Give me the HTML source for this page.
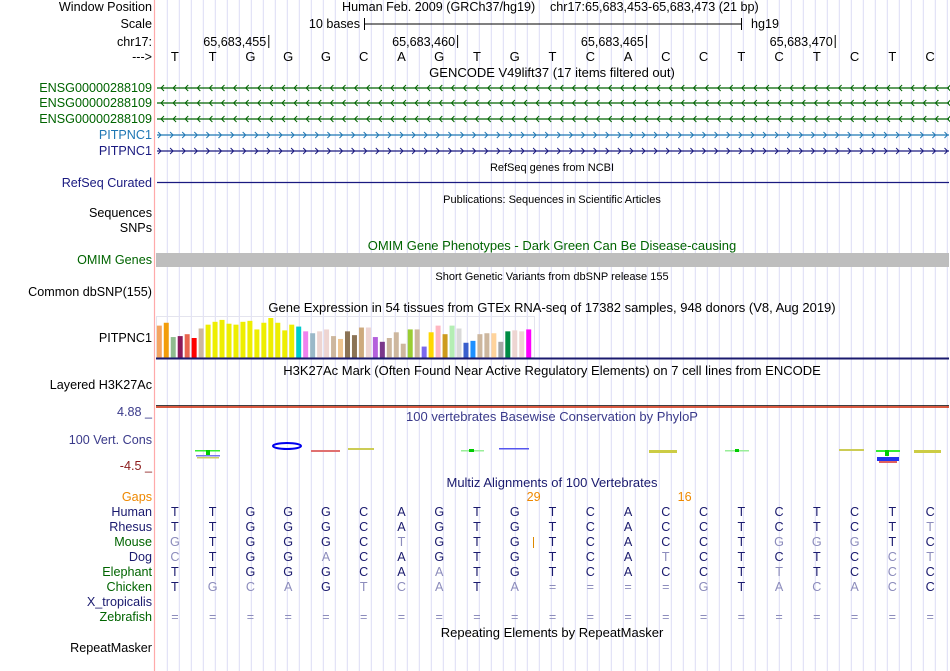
<!DOCTYPE html>
<html><head><meta charset="utf-8">
<style>
html,body{margin:0;padding:0;background:#fff;}
svg{display:block;font-family:"Liberation Sans",sans-serif;}
</style></head>
<body>
<svg id="g" width="950" height="671" viewBox="0 0 950 671" xmlns="http://www.w3.org/2000/svg"></svg>
<script>
const bases = ["T","T","G","G","G","C","A","G","T","G","T","C","A","C","C","T","C","T","C","T","C"];
const species = ["Human","Rhesus","Mouse","Dog","Elephant","Chicken","X_tropicalis","Zebrafish"];
const speciesColors = ["#1a1a6e","#1a1a6e","#006400","#1a1a6e","#006400","#006400","#1a1a6e","#006400"];
const alignRows = [
 "TTGGGCAGTGTCACCTCTCTC",
 "TTGGGCAGTGTCACCTCTCTT",
 "GTGGGCTGTGTCACCTGGGTC",
 "CTGGACAGTGTCATCTCTCCT",
 "TTGGGCAATGTCACCTTTCCC",
 "TGCAGTCATA====GTACACC",
 "                     ",
 "====================="];
const gapLabels = ["29","16"];
const gtexValues = [34,37,22,23,25,21,31,35,38,40,36,35,38,39,30,37,42,37,29,35,33,28,26,28,30,23,20,28,24,32,32,22,17,21,27,15,30,30,12,27,34,25,34,31,16,18,25,26,26,17,28,29,28,30];
const gtexColors = ["#f4a460","#f29d0a","#8fbc8f","#8b1a5a","#e9664e","#ff0000","#cdb79e","#eeee00","#eeee00","#eeee00","#eeee00","#eeee00","#eeee00","#eeee00","#eeee00","#eeee00","#eeee00","#eeee00","#eeee00","#eeee00","#00cdcd","#ee82ee","#9ab8c8","#eed5d2","#eed5d2","#cdb79e","#eec591","#8b7355","#8b7355","#cdaa7d","#eed5d2","#b460dc","#7a378b","#cdb79e","#cdb79e","#cdb79e","#9acd32","#cdb79e","#7b68ee","#ffd700","#ffb6c1","#cd9b1d","#b4eeb4","#d9d9d9","#3a5fcd","#1e90ff","#cdb79e","#cdb79e","#ffd39b","#a6a6a6","#008b45","#eed5d2","#eed5d2","#ff00ff"];
const rulerTicks = ["65,683,455","65,683,460","65,683,465","65,683,470"];
const rulerTickBase = [2,7,12,17];

const NS="http://www.w3.org/2000/svg";
const svg=document.getElementById('g');
function el(tag,attrs,parent){const e=document.createElementNS(NS,tag);for(const k in attrs)e.setAttribute(k,attrs[k]);(parent||svg).appendChild(e);return e;}
function txt(x,y,s,attrs){const e=el('text',Object.assign({x:x,y:y,'font-size':12.6,fill:'#000'},attrs||{}));e.textContent=s;return e;}
const X0=156, BW=(949-156)/21;
const bx=i=>X0+BW*(i+0.5);

for(let x=167.3;x<950;x+=12){const l=el('line',{x1:x,y1:0,x2:x,y2:671,stroke:'#dcdcf5','stroke-width':1});

}
const sep=el('line',{x1:154.5,y1:0,x2:154.5,y2:671,stroke:'#ffaaaa','stroke-width':1.2});



const labels=[["Window Position",11,"#000"],["Scale",28,"#000"],["chr17:",46,"#000"],["--->",61,"#000"],
["ENSG00000288109",92,"#006400"],["ENSG00000288109",107,"#006400"],["ENSG00000288109",123,"#006400"],
["PITPNC1",139,"#1f77b4"],["PITPNC1",155,"#1a1a80"],["RefSeq Curated",187,"#1a1a80"],["Sequences",217,"#000"],["SNPs",232,"#000"],
["OMIM Genes",264,"#006400"],["Common dbSNP(155)",296,"#000"],["PITPNC1",342,"#000"],["Layered H3K27Ac",389,"#000"],
["100 Vert. Cons",444,"#3a3a8a"],["Gaps",501,"#ee8800"],["RepeatMasker",652,"#000"]];
labels.forEach(l=>{const t=txt(152,l[1],l[0],{'text-anchor':'end',fill:l[2]});

});
const a=txt(152,416,"4.88 _",{'text-anchor':'end',fill:'#3a3a8a'});
const b=txt(152,470,"-4.5 _",{'text-anchor':'end',fill:'#8b1a1a'});
species.forEach((s,i)=>{const t=txt(152,516+i*15,s,{'text-anchor':'end',fill:speciesColors[i]});

});

const tA=txt(342,11,"Human Feb. 2009 (GRCh37/hg19)");
const tB=txt(550,11,"chr17:65,683,453-65,683,473 (21 bp)");
const tC=txt(360,28,"10 bases",{'text-anchor':'end'});
el('line',{x1:364,y1:24,x2:741,y2:24,stroke:'#000'});el('line',{x1:364.5,y1:18,x2:364.5,y2:30,stroke:'#000'});el('line',{x1:741.5,y1:18,x2:741.5,y2:30,stroke:'#000'});
const tD=txt(751,28,"hg19");
rulerTicks.forEach((s,i)=>{const x=X0+BW*(rulerTickBase[i]+1);
const l=el('line',{x1:x-0.5,y1:35,x2:x-0.5,y2:48,stroke:'#000'});
const t=txt(x-3,46,s,{'text-anchor':'end'});});
bases.forEach((c,i)=>{const t=txt(bx(i),61,c,{'text-anchor':'middle','font-size':13});

});

const titles=[["GENCODE V49lift37 (17 items filtered out)",77,"#000",13],["RefSeq genes from NCBI",171,"#000",11],["Publications: Sequences in Scientific Articles",203,"#000",11],
["OMIM Gene Phenotypes - Dark Green Can Be Disease-causing",250,"#006400",13],["Short Genetic Variants from dbSNP release 155",280,"#000",11],
["Gene Expression in 54 tissues from GTEx RNA-seq of 17382 samples, 948 donors (V8, Aug 2019)",312,"#000",13],
["H3K27Ac Mark (Often Found Near Active Regulatory Elements) on 7 cell lines from ENCODE",375,"#000",13],
["100 vertebrates Basewise Conservation by PhyloP",421,"#3a3a8a",13],["Multiz Alignments of 100 Vertebrates",487,"#1a1a6e",13],
["Repeating Elements by RepeatMasker",637,"#000",13]];
titles.forEach(t=>{const e=txt(552,t[1],t[0],{'text-anchor':'middle',fill:t[2],'font-size':t[3]});

});

const genes=[[88,'#006400',-1],[103,'#006400',-1],[119,'#006400',-1],[135,'#1f77b4',1],[151,'#1a1a80',1]];
genes.forEach(g=>{const grp=el('g',{});
el('line',{x1:157,y1:g[0],x2:949,y2:g[0],stroke:g[1],'stroke-width':1.2},grp);
for(let x=161;x<949;x+=12.1){const d=-g[2]*3;el('polyline',{points:`${x+d},${g[0]-3} ${x},${g[0]} ${x+d},${g[0]+3}`,fill:'none',stroke:g[1],'stroke-width':1},grp);}});
const rs=el('line',{x1:157,y1:182.5,x2:949,y2:182.5,stroke:'#1a1a80','stroke-width':1.2});
const om=el('rect',{x:156,y:253,width:793,height:14,fill:'#bebebe'});

const gBase=358,gMax=42,gH=40;
const yG=v=>gBase-v/gMax*gH;
const box=el('rect',{x:156.5,y:316.5,width:378,height:41,fill:'none',stroke:'#e4e4ee'});
gtexValues.forEach((v,i)=>{const r=el('rect',{x:156.8+i*6.97,y:yG(v),width:5,height:gBase-yG(v),fill:gtexColors[i]});

});
const nl=el('line',{x1:156,y1:358.5,x2:949,y2:358.5,stroke:'#1a1a6e','stroke-width':2});
const rl=el('line',{x1:156,y1:407,x2:949,y2:407,stroke:'#cc2200','stroke-width':1.5});
el('line',{x1:156,y1:405.5,x2:949,y2:405.5,stroke:'#000','stroke-width':0.8});

const logoGroup=el('g',{});
[[195,450,25,1.5,'#33ee33'],[206,450,4,5,'#00cc00'],[196,455,24,1.5,'#7777ee'],[197,457,22,1.5,'#cccc66'],
[311,450,29,2,'#e07070'],[348,448,26,2,'#cccc55'],[461,450,23,1.5,'#99ee99'],[469,449,5,3,'#00cc00'],[499,448,30,1.5,'#5555ee'],
[649,450,28,3,'#cccc44'],[725,450,24,1.5,'#99ee99'],[735,449,4,3,'#00cc00'],[839,449,25,2,'#cccc55'],
[876,450,24,2,'#33ee33'],[885,450,4,6,'#00cc00'],[877,457,22,4,'#2233ee'],[879,461,18,2,'#e06060'],[914,450,27,3,'#cccc44']].forEach(r=>{
el('rect',{x:r[0],y:r[1],width:r[2],height:r[3],fill:r[4]},logoGroup);});
el('ellipse',{cx:287,cy:446,rx:14,ry:3,fill:'none',stroke:'#0000ee','stroke-width':2},logoGroup);

const gapX=[X0+BW*10,X0+BW*14];
gapLabels.forEach((s,i)=>{const t=txt(gapX[i],501,s,{'text-anchor':'middle',fill:'#ee8800'});});
el('line',{x1:533.5,y1:537,x2:533.5,y2:548,stroke:'#dd8800','stroke-width':1});
alignRows.forEach((row,r)=>{for(let i=0;i<row.length;i++){const c=row[i];if(c===' ')continue;
const match=c===alignRows[0][i];
const t=txt(bx(i),516+r*15,c,{'text-anchor':'middle',fill:match?'#1a1a6e':'#8c8cbc'});

}});
</script>
</body></html>
